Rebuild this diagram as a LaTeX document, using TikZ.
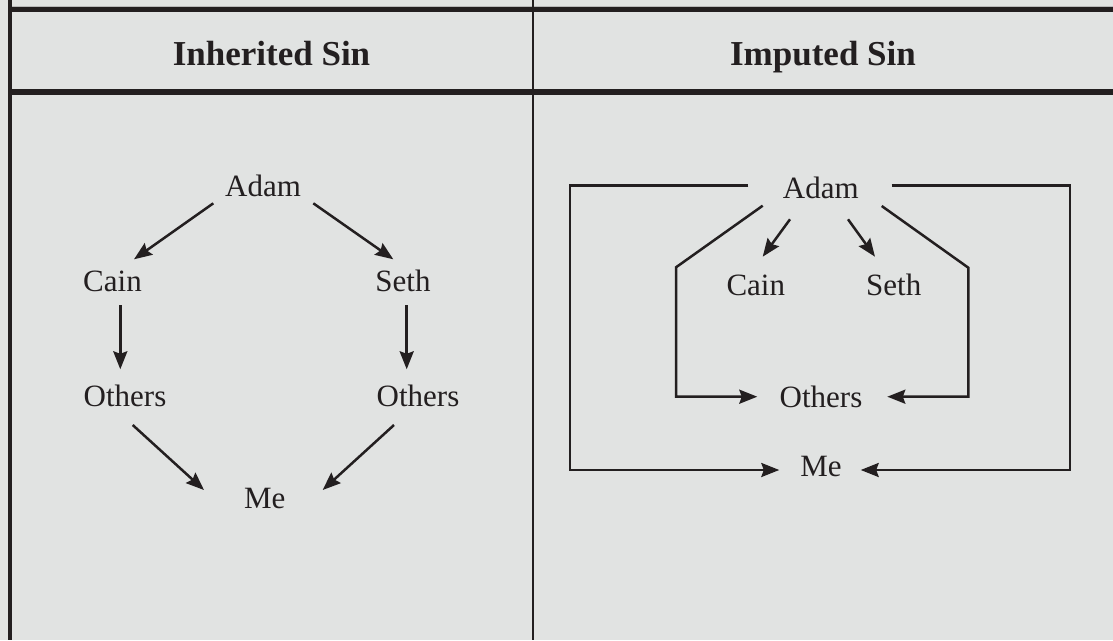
\documentclass[tikz,border=0pt]{standalone}
\usepackage{fontspec}
\setmainfont{Liberation Serif}
\usetikzlibrary{calc}
\usetikzlibrary{arrows.meta}
\definecolor{ink}{HTML}{231F20}
\definecolor{paper}{HTML}{E1E3E2}

\begin{document}
\begin{tikzpicture}[x=1pt,y=-1pt,
  person/.style={anchor=base,inner sep=0pt,text=ink,font=\fontsize{31}{37}\selectfont},
  sinhead/.style={anchor=base,inner sep=0pt,text=ink,font=\fontsize{35}{42}\selectfont\bfseries},
  link/.style={draw=ink,line width=2.5pt},
  arr/.style={link,-{Stealth[length=18pt,width=14pt,inset=2.5pt]}}]
\useasboundingbox (0,0) rectangle (1113,640);
\fill[paper] (0,0) rectangle (1113,640);

% table frame
\draw[gray!55,line width=0.7pt] (8,6.3)--(1113,6.3);
\draw[ink,line width=5.5pt] (8,9.3)--(1113,9.3);
\draw[ink,line width=5.5pt] (8,92)--(1113,92);
\draw[ink,line width=4pt] (9.5,0)--(9.5,640);
\draw[ink,line width=2.8pt] (533,0)--(533,640);

\node[sinhead] (h_inh) at (271.5,65) {Inherited Sin};
\node[sinhead] (h_imp) at (823,65) {Imputed Sin};

% inherited sin
\node[person] (adam_l) at (263,196) {Adam};
\node[person] (cain_l) at (112.5,291.7) {Cain};
\node[person] (seth_l) at (403,291.7) {Seth};
\node[person] (oth_l) at (125,406.7) {Others};
\node[person] (oth_r) at (418,406.7) {Others};
\node[person] (me_l) at (264.7,508.3) {Me};

\draw[arr] ($(adam_l.base)+(-49.7,7.3)$)--($(cain_l.base)+(21.5,-32.4)$);
\draw[arr] ($(adam_l.base)+(50.3,7.3)$)--($(seth_l.base)+(-9.7,-32.4)$);
\draw[arr] ($(cain_l.base)+(7.8,13.3)$)--($(oth_l.base)+(-4.7,-37.4)$);
\draw[arr] ($(seth_l.base)+(3.7,13.3)$)--($(oth_r.base)+(-11.3,-37.4)$);
\draw[arr] ($(oth_l.base)+(7.7,18.3)$)--($(me_l.base)+(-60.7,-18.3)$);
\draw[arr] ($(oth_r.base)+(-24,18.3)$)--($(me_l.base)+(58,-18.3)$);

% imputed sin
\node[person] (adam_i) at (820.8,198) {Adam};
\node[person] (cain_i) at (755.8,295) {Cain};
\node[person] (seth_i) at (893.7,295) {Seth};
\node[person] (oth_i) at (821,407.3) {Others};
\node[person] (me_i) at (821,476.7) {Me};

\draw[arr] ($(adam_i.base)+(-30.8,21.3)$)--($(cain_i.base)+(6.9,-38.3)$);
\draw[arr] ($(adam_i.base)+(27.2,21.3)$)--($(seth_i.base)+(-18.7,-38.3)$);

\draw[arr] ($(adam_i.base)+(-72.5,-12.3)$)--++(-178.3,0) |- ($(me_i.base)+(-41.7,-6.7)$);
\draw[arr] ($(adam_i.base)+(70.9,-12.3)$)--++(178.3,0) |- ($(me_i.base)+(39.7,-6.7)$);
\draw[arr] ($(adam_i.base)+(-58.1,7.7)$)--++(-86.7,61.6) |- ($(oth_i.base)+(-63.7,-10.6)$);
\draw[arr] ($(adam_i.base)+(60.9,8)$)--++(86.6,61.7) |- ($(oth_i.base)+(66.3,-10.6)$);
\end{tikzpicture}
\end{document}
